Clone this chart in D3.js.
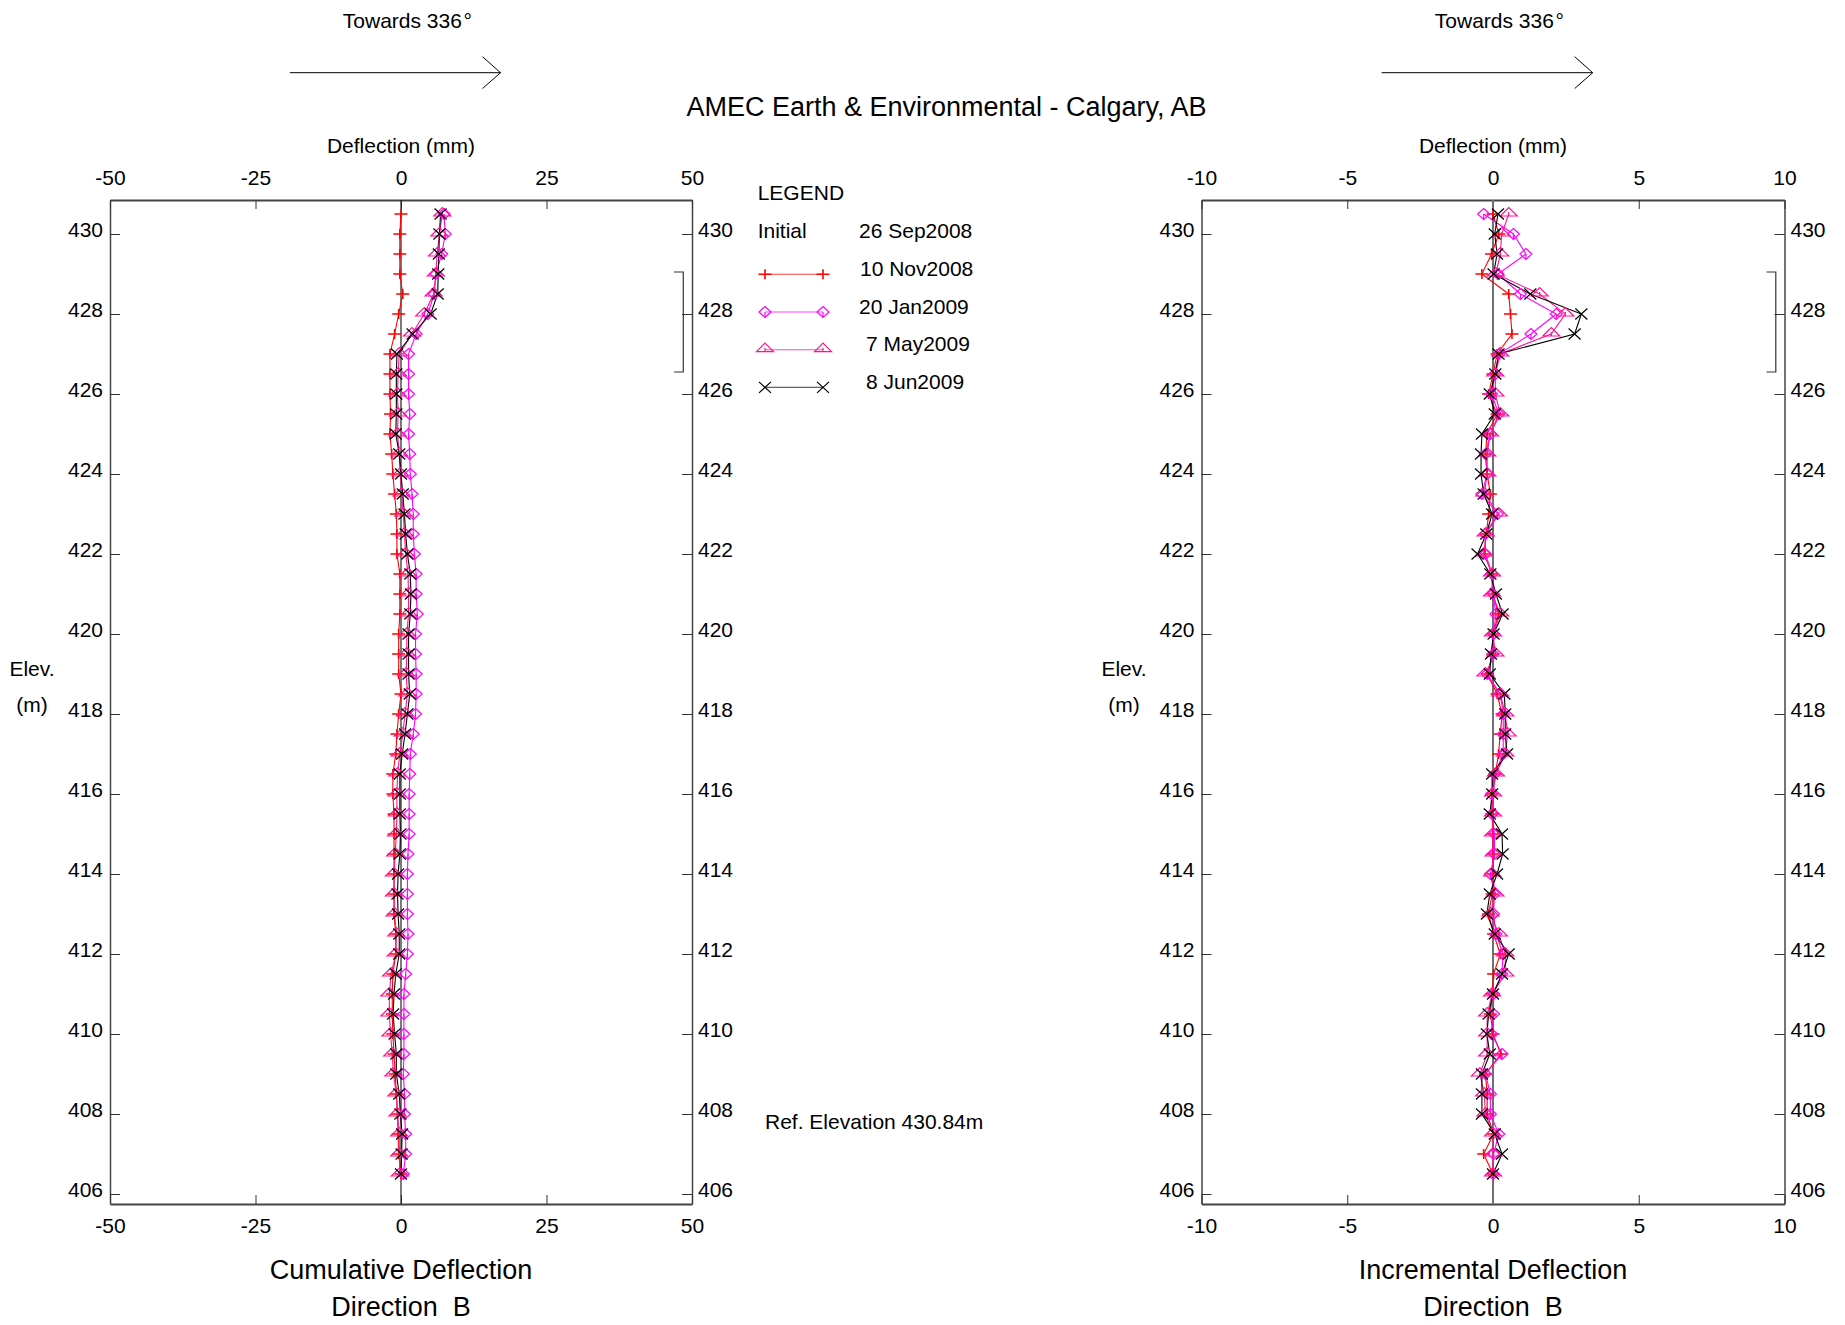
<!DOCTYPE html>
<html><head><meta charset="utf-8">
<script src="https://cdn.jsdelivr.net/npm/d3@7"></script>
<style>
html,body{margin:0;padding:0;background:#fff;}
svg text{font-family:"Liberation Sans",Arial,sans-serif;fill:#000;}
</style></head>
<body>
<svg id="chart" width="1845" height="1325"></svg>
<script>
// ---------------- DATA ----------------
const elevations = [430.5,430,429.5,429,428.5,428,427.5,427,426.5,426,425.5,425,424.5,424,423.5,423,422.5,422,421.5,421,420.5,420,419.5,419,418.5,418,417.5,417,416.5,416,415.5,415,414.5,414,413.5,413,412.5,412,411.5,411,410.5,410,409.5,409,408.5,408,407.5,407,406.5];

const seriesNames = ["10 Nov2008","20 Jan2009","7 May2009","8 Jun2009"];
const initialLabel = "Initial";
const initialDate = "26 Sep2008";

// Cumulative deflection (mm)
const cumNov = [0.0,-0.2,-0.2,-0.2,0.3,-0.4,-1.1,-1.9,-1.9,-1.9,
  -1.8,-1.9,-1.6,-1.4,-1.1,-0.8,-0.7,-0.7,-0.2,-0.2,
  -0.2,-0.4,-0.4,-0.4,0.0,-0.4,-0.7,-0.9,-1.4,-1.4,
  -1.2,-1.2,-1.2,-1.2,-1.2,-1.2,-0.9,-0.9,-1.4,-1.5,
  -1.5,-1.4,-1.2,-1.0,-0.8,-0.6,-0.5,-0.4,0.0];
const cumJan = [7.4,7.6,7.0,6.0,5.7,4.6,2.6,1.3,1.3,1.3,
  1.5,1.3,1.5,1.6,1.9,2.1,2.1,2.3,2.6,2.6,
  2.8,2.5,2.5,2.6,2.6,2.5,2.1,1.6,1.5,1.4,
  1.4,1.4,1.2,1.1,1.1,1.1,1.2,1.1,0.8,0.5,
  0.5,0.5,0.5,0.4,0.6,0.6,0.8,0.8,0.4];
const cumMay = [7.1,6.6,6.2,6.0,5.6,4.0,1.9,-0.3,-0.5,-0.6,
  -0.5,-0.6,-0.3,-0.1,0.1,0.4,0.6,0.8,1.2,1.3,
  1.3,1.0,1.0,0.9,1.1,0.7,0.3,-0.2,-0.6,-0.7,
  -0.7,-0.8,-1.0,-1.2,-1.2,-1.1,-0.8,-0.9,-1.7,-2.0,
  -2.0,-1.8,-1.5,-1.3,-0.8,-0.6,-0.3,-0.3,-0.2];
const cumJun = [6.8,6.6,6.5,6.4,6.3,5.1,2.0,-0.7,-0.8,-0.8,
  -0.8,-0.9,-0.3,0.0,0.3,0.6,0.8,1.1,1.6,1.7,
  1.6,1.3,1.3,1.3,1.5,1.1,0.7,0.2,-0.2,-0.2,
  -0.2,-0.1,-0.2,-0.5,-0.6,-0.5,-0.3,-0.3,-0.9,-1.2,
  -1.35,-1.1,-0.8,-0.8,-0.3,-0.1,0.2,0.1,0.0];

// Incremental deflection (mm)
const incNov = [0.0,0.2,-0.05,-0.38,0.54,0.6,0.65,0.14,0.0,-0.15,
  0.14,-0.2,-0.26,-0.2,-0.09,-0.15,-0.23,-0.3,-0.03,0.0,
  0.19,0.0,0.0,-0.2,0.14,0.31,0.25,0.19,0.08,-0.03,
  -0.03,0.0,0.0,0.0,-0.03,-0.15,0.02,0.25,0.02,-0.03,
  -0.09,0.0,0.27,-0.26,-0.2,-0.2,0.02,-0.32,0.0];
const incJan = [-0.32,0.7,1.13,0.17,0.94,2.17,1.3,0.2,0.08,-0.05,
  0.2,-0.09,-0.26,-0.2,-0.38,0.15,-0.26,-0.26,-0.03,0.0,
  0.1,0.02,0.0,-0.2,0.25,0.35,0.35,0.35,0.05,-0.05,
  -0.03,0.05,0.05,-0.09,0.05,0.02,0.1,0.35,0.3,0.02,
  0.02,-0.05,0.31,-0.26,-0.09,-0.09,0.2,0.02,0.0];
const incMay = [0.54,0.3,0.25,0.1,1.6,2.48,2.0,0.25,0.08,0.08,
  0.25,-0.1,-0.2,-0.2,-0.3,0.2,-0.25,-0.3,-0.03,-0.03,
  0.25,0.0,0.08,-0.26,0.25,0.42,0.5,0.42,0.1,0.0,
  0.0,0.0,0.02,-0.03,0.08,-0.09,0.2,0.42,0.42,-0.03,
  -0.2,-0.2,-0.2,-0.45,-0.3,-0.26,0.0,0.0,0.0];
const incJun = [0.17,0.06,0.14,0.02,1.28,3.03,2.8,0.19,0.08,-0.11,
  0.06,-0.38,-0.41,-0.41,-0.32,-0.03,-0.23,-0.53,-0.09,0.1,
  0.33,0.02,-0.07,-0.11,0.39,0.42,0.42,0.48,-0.03,-0.03,
  -0.11,0.31,0.33,0.14,-0.11,-0.21,0.06,0.54,0.31,0.0,
  -0.15,-0.21,-0.11,-0.38,-0.38,-0.38,0.06,0.31,0.0];

const elevTicks = [406,408,410,412,414,416,418,420,422,424,426,428,430];
const cumTicks = [-50,-25,0,25,50];
const incTicks = [-10,-5,0,5,10];
const elevDomain = [430.85, 405.75];
const bracketElev = [429.05, 426.55];

const titleText = "AMEC Earth & Environmental - Calgary, AB";
const towardsText = "Towards 336\u200A°";
const refText = "Ref. Elevation 430.84m";

// ---------------- STYLE ----------------
const colors = ["#ff0000","#ff00ff","#ff1493","#000000"];
const markerPaths = [
  "M-6.5,0H6.5M0,-5V5",
  "M0,-5.5L6,0L0,5.5L-6,0Z M0,0V5",
  "M-8.5,2L0,-6.5L8.5,2Z M0,2V-2",
  "M-6,-5.5L6,5.5M-6,5.5L6,-5.5"
];
const FONT = "Liberation Sans, Arial, sans-serif";
const fmt = d => String(d);

const svg = d3.select("#chart");
const yScale = d3.scaleLinear().domain(elevDomain).range([200, 1204]);

const panels = [
  {x0:110, x1:692, domain:[-50,50], ticks:cumTicks, series:[cumNov,cumJan,cumMay,cumJun],
   bottom1:"Cumulative Deflection", zeroColor:"#222", zeroWidth:1.2, elevX:32},
  {x0:1201.5, x1:1784.5, domain:[-10,10], ticks:incTicks, series:[incNov,incJan,incMay,incJun],
   bottom1:"Incremental Deflection", zeroColor:"#707070", zeroWidth:2, elevX:1124}
];

panels.forEach(p => {
  const x = d3.scaleLinear().domain(p.domain).range([p.x0, p.x1]);
  const g = svg.append("g");
  const cx = (p.x0 + p.x1) / 2;

  // Axes (box + ticks)
  const left = g.append("g").attr("transform", `translate(${p.x0},0)`)
    .call(d3.axisLeft(yScale).tickValues(elevTicks).tickSize(-10).tickSizeOuter(0).tickPadding(7).tickFormat(fmt));
  const right = g.append("g").attr("transform", `translate(${p.x1},0)`)
    .call(d3.axisRight(yScale).tickValues(elevTicks).tickSize(-10).tickSizeOuter(0).tickPadding(6).tickFormat(fmt));
  const top = g.append("g").attr("transform", `translate(0,200)`)
    .call(d3.axisTop(x).tickValues(p.ticks).tickSize(-9).tickSizeOuter(0).tickPadding(15).tickFormat(fmt));
  const bot = g.append("g").attr("transform", `translate(0,1204)`)
    .call(d3.axisBottom(x).tickValues(p.ticks).tickSize(-9).tickSizeOuter(0).tickPadding(14).tickFormat(fmt));
  [left,right].forEach(a => {
    a.select(".domain").attr("stroke","#444").attr("stroke-width",1.5);
    a.selectAll(".tick line").attr("stroke","#333").attr("stroke-width",1);
    a.selectAll(".tick text").attr("dy","0.1em");
  });
  [top,bot].forEach(a => {
    a.select(".domain").attr("stroke","#444").attr("stroke-width",2);
    a.selectAll(".tick line").attr("stroke","#333").attr("stroke-width",1);
  });
  g.selectAll(".tick text").attr("font-size",21).attr("font-family",FONT).attr("fill","#000");

  // Initial (zero) line
  g.append("line").attr("x1",x(0)).attr("x2",x(0)).attr("y1",200).attr("y2",1204)
    .attr("stroke",p.zeroColor).attr("stroke-width",p.zeroWidth);

  // bracket
  g.append("path")
    .attr("d",`M${p.x1-18},${yScale(bracketElev[0])}H${p.x1-8.7}V${yScale(bracketElev[1])}H${p.x1-18}`)
    .attr("fill","none").attr("stroke","#333").attr("stroke-width",1.2);

  // series lines
  const line = d3.line().x(d => x(d[0])).y(d => yScale(d[1]));
  p.series.forEach((vals, i) => {
    const pts = vals.map((v, k) => [v, elevations[k]]);
    g.append("path").attr("d", line(pts)).attr("fill","none")
      .attr("stroke", colors[i]).attr("stroke-width", 1.1);
  });
  p.series.forEach((vals, i) => {
    g.append("g").selectAll("path").data(vals).join("path")
      .attr("transform",(v,k)=>`translate(${x(v)},${yScale(elevations[k])})`)
      .attr("d", markerPaths[i]).attr("fill","none")
      .attr("stroke", colors[i]).attr("stroke-width", i===0?1.6:1.2);
  });

  // Labels
  g.append("text").attr("x",cx).attr("y",153).attr("text-anchor","middle").attr("font-size",21).text("Deflection (mm)");
  g.append("text").attr("x",cx).attr("y",1279).attr("text-anchor","middle").attr("font-size",27).text(p.bottom1);
  g.append("text").attr("x",cx).attr("y",1316).attr("text-anchor","middle").attr("font-size",27)
    .attr("xml:space","preserve").style("white-space","pre").text("Direction  B");
  g.append("text").attr("x",p.elevX).attr("y",676).attr("text-anchor","middle").attr("font-size",21).text("Elev.");
  g.append("text").attr("x",p.elevX).attr("y",712).attr("text-anchor","middle").attr("font-size",21).text("(m)");

  // Towards arrow
  const w = p.x1 - p.x0;
  const ax0 = p.x0 + 0.309*w, ax1 = p.x0 + 0.671*w;
  g.append("text").attr("x",p.x0 + 0.511*w).attr("y",28).attr("text-anchor","middle").attr("font-size",21).text(towardsText);
  g.append("line").attr("x1",ax0).attr("x2",ax1).attr("y1",72.7).attr("y2",72.7).attr("stroke","#000").attr("stroke-width",1);
  g.append("path").attr("d",`M${ax1-18},56.7L${ax1},72.7L${ax1-18},88.5`).attr("fill","none").attr("stroke","#000").attr("stroke-width",1);
});

// Title
svg.append("text").attr("x",946.5).attr("y",116).attr("text-anchor","middle").attr("font-size",27).text(titleText);

// Legend
const lg = svg.append("g");
lg.append("text").attr("x",757.7).attr("y",200).attr("font-size",21).text("LEGEND");
lg.append("text").attr("x",757.7).attr("y",238).attr("font-size",21).text(initialLabel);
lg.append("text").attr("x",859).attr("y",238).attr("font-size",21).text(initialDate);
const legendRowY = [274.3, 312, 349.7, 387.4];
const legendTextX = [860, 859, 866, 866];
seriesNames.forEach((name, i) => {
  const y = legendRowY[i];
  lg.append("line").attr("x1",765).attr("x2",823).attr("y1",y).attr("y2",y)
    .attr("stroke",colors[i]).attr("stroke-width",1.1).attr("opacity", i===3?0.6:0.75);
  [765,823].forEach(mx => lg.append("path").attr("transform",`translate(${mx},${y})`)
    .attr("d",markerPaths[i]).attr("fill","none").attr("stroke",colors[i]).attr("stroke-width",i===0?1.6:1.2));
  lg.append("text").attr("x",legendTextX[i]).attr("y",y+1.5).attr("font-size",21).text(name);
});

// Ref elevation
svg.append("text").attr("x",765).attr("y",1129).attr("font-size",21).text(refText);
</script>
</body></html>
